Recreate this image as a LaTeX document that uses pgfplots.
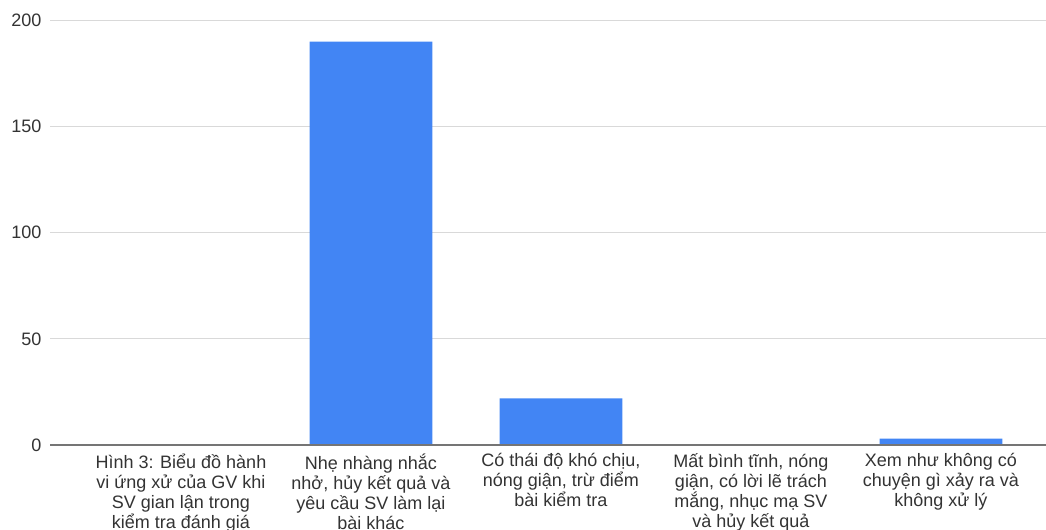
\documentclass[border=0pt]{standalone}
\usepackage{pgfplots}
\pgfplotsset{compat=1.18}
\usepackage{fontspec}
\setmainfont{Liberation Sans}
\definecolor{barblue}{HTML}{4285F4}
\definecolor{gridgray}{HTML}{D9D9D9}
\definecolor{basegray}{HTML}{757575}
\definecolor{labelgray}{HTML}{333333}
\begin{document}
\begin{tikzpicture}
\begin{axis}[
  at={(37.5pt,63.75pt)}, anchor=south west,
  scale only axis,
  width=747pt, height=318.5pt,
  xmin=-0.689, xmax=4.553,
  ymin=0, ymax=200,
  axis line style={draw=none},
  ybar, bar width=92pt,
  ytick={0,50,100,150,200},
  ymajorgrids,
  grid style={gridgray, line width=0.9pt},
  xtick={0,1,2,3,4},
  xticklabels={
    {Hình 3: Biểu đồ hành\\vi ứng xử của GV khi\\SV gian lận trong\\kiểm tra đánh giá},
    {Nhẹ nhàng nhắc\\nhở, hủy kết quả và\\yêu cầu SV làm lại\\bài khác},
    {Có thái độ khó chịu,\\nóng giận, trừ điểm\\bài kiểm tra},
    {Mất bình tĩnh, nóng\\giận, có lời lẽ trách\\mắng, nhục mạ SV\\và hủy kết quả},
    {Xem như không có\\chuyện gì xảy ra và\\không xử lý}},
  major tick length=0pt,
  tick label style={font=\fontsize{13.5pt}{15pt}\selectfont, text=labelgray},
  xticklabel style={align=center, anchor=north, yshift=-3pt},
  yticklabel style={xshift=-3pt},
  /pgf/number format/assume math mode=true,
  clip=false,
]
\addplot[fill=barblue, draw=none] coordinates {(0,0) (1,190) (2,22) (3,0) (4,3)};
\draw[basegray, line width=1.5pt] (axis cs:-0.689,0) -- (axis cs:4.553,0);
\end{axis}
\pgfresetboundingbox
\path[use as bounding box] (0pt,0pt) rectangle (784.5pt,397.5pt);
\end{tikzpicture}
\end{document}
